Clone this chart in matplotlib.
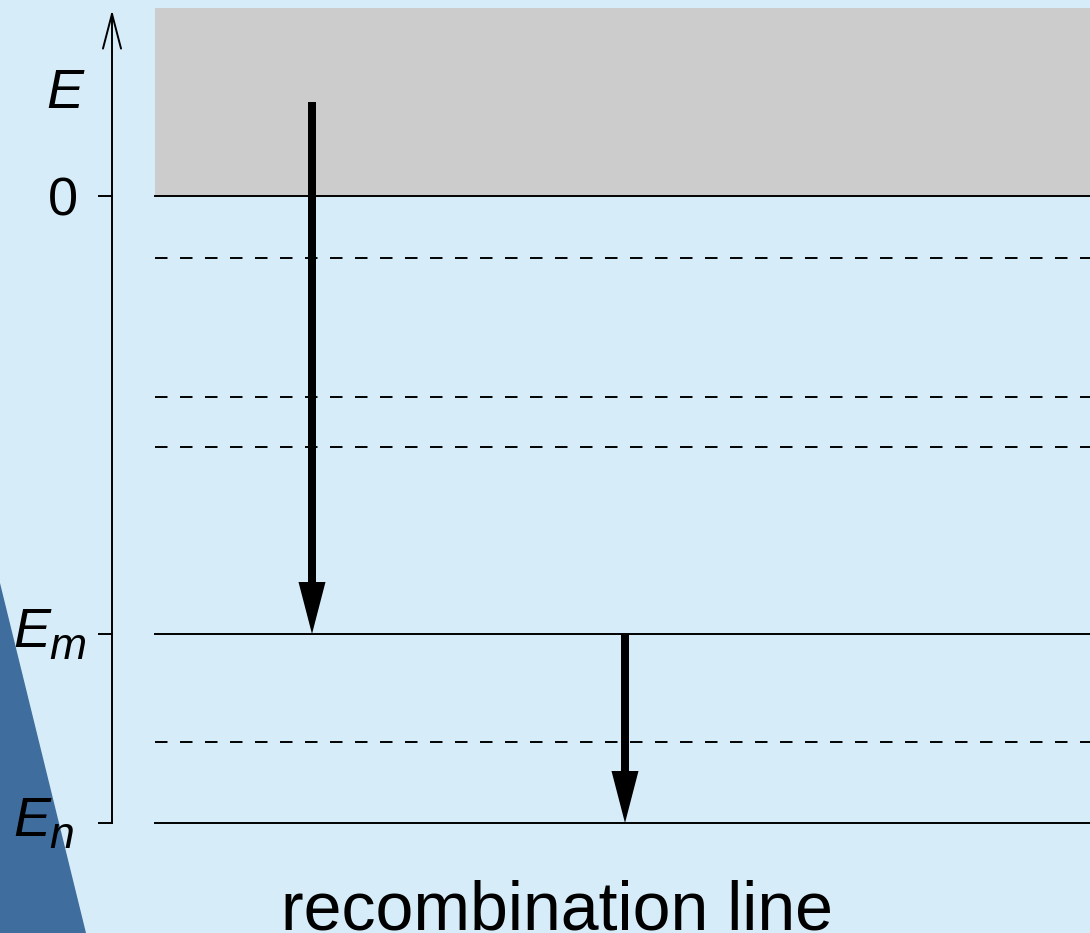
import matplotlib
matplotlib.use("Agg")
import matplotlib.pyplot as plt

# Energy levels (arbitrary units, 0 = continuum edge)
E_M = -438
E_N = -627
SOLID_LEVELS = [0, E_M, E_N]
DASHED_LEVELS = [-62, -201, -251, -546]
CONTINUUM_TOP = 188

# Transitions: (x, start energy, end energy)
TRANSITIONS = [(312, 94, E_M), (625, E_M, E_N)]

# level ticks on the energy axis: (energy, subscript)
LEVEL_TICKS = [(E_M, "m"), (E_N, "n")]

BG = "#d6ecf8"
DARK = "#3f6d9d"
GREY = "#cccccc"

plt.rcParams["font.family"] = ["Liberation Sans", "DejaVu Sans"]
plt.rcParams["lines.scale_dashes"] = False

fig = plt.figure(figsize=(10.9, 9.33), dpi=100, facecolor=BG)
ax = fig.add_axes([0, 0, 1, 1])
ax.set_facecolor(BG)
ax.set_xlim(0, 1090)
ax.set_ylim(-737, 196)
ax.axis("off")

# decorative wedge bottom left
ax.fill([0, 86, 0], [-387, -737, -737], color=DARK, lw=0, zorder=0)

# continuum
x0, x1 = 155, 1090
ax.fill_between([x0, x1], 0, CONTINUUM_TOP, color=GREY, lw=0, zorder=1)

for e in SOLID_LEVELS:
    ax.plot([x0, x1], [e, e], color="black", lw=1.4, zorder=2)
for e in DASHED_LEVELS:
    ax.plot([x0, x1], [e, e], color="black", lw=1.4, dashes=(9, 9), zorder=2)

# energy axis
ax.annotate("", xy=(112, 186), xytext=(112, E_N),
            arrowprops=dict(arrowstyle="->,head_length=2.5,head_width=0.65",
                            lw=1.4, color="black", shrinkA=0, shrinkB=0,
                            mutation_scale=10))
for e in SOLID_LEVELS:
    ax.plot([99, 112], [e, e], color="black", lw=1.4)
ax.text(46, 88, "E", fontsize=40, style="italic", ha="left", va="baseline")
ax.text(78, -19, "0", fontsize=39, ha="right", va="baseline")
for e, sub in LEVEL_TICKS:
    ax.text(13, e - 13, "E", fontsize=40, style="italic", ha="left", va="baseline")
    ax.text(49, e - 25, sub, fontsize=32, style="italic", ha="left", va="baseline")

# transitions
for x, e0, e1 in TRANSITIONS:
    ax.arrow(x, e0, 0, e1 - e0, width=8, head_width=27, head_length=52,
             length_includes_head=True, color="black", lw=0, zorder=3)

ax.text(557, -733, "recombination line", fontsize=49, ha="center", va="baseline")

fig.savefig("out.png", dpi=100, facecolor=BG)
